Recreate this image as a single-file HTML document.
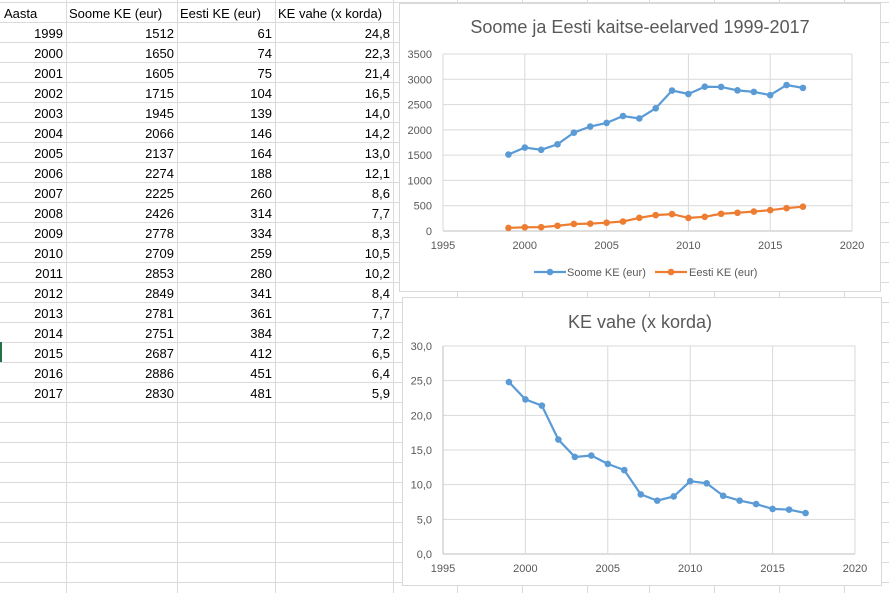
<!DOCTYPE html>
<html><head><meta charset="utf-8">
<style>
body{margin:0;width:889px;height:593px;overflow:hidden;background:#fff;font-family:"Liberation Sans",sans-serif;}
svg{display:block}
</style></head><body>
<svg id="s" width="889" height="593" xmlns="http://www.w3.org/2000/svg" font-family="Liberation Sans, sans-serif"></svg>
<script>
const s=document.getElementById('s');let h='';
const data=[[1999,1512,61,'24,8'],[2000,1650,74,'22,3'],[2001,1605,75,'21,4'],[2002,1715,104,'16,5'],[2003,1945,139,'14,0'],[2004,2066,146,'14,2'],[2005,2137,164,'13,0'],[2006,2274,188,'12,1'],[2007,2225,260,'8,6'],[2008,2426,314,'7,7'],[2009,2778,334,'8,3'],[2010,2709,259,'10,5'],[2011,2853,280,'10,2'],[2012,2849,341,'8,4'],[2013,2781,361,'7,7'],[2014,2751,384,'7,2'],[2015,2687,412,'6,5'],[2016,2886,451,'6,4'],[2017,2830,481,'5,9']];
for(let y=2;y<=593;y+=20)h+=`<line x1="0" y1="${y+.5}" x2="889" y2="${y+.5}" stroke="#dadada"/>`;
[66,177,275,393,457,522,587,649,714,779,844].forEach(x=>h+=`<line x1="${x+.5}" y1="0" x2="${x+.5}" y2="593" stroke="#dadada"/>`);
h+=`<rect x="0" y="342" width="2" height="20" fill="#217346"/>`;
const T=(x,y,t,a,sz,c)=>`<text x="${x}" y="${y}" font-size="${sz||13}" fill="${c||'#000'}" text-anchor="${a||'start'}">${t}</text>`;
h+=T(4,18,'Aasta')+T(69,18,'Soome KE (eur)')+T(180,18,'Eesti KE (eur)')+T(278,18,'KE vahe (x korda)');
data.forEach((d,i)=>{const y=38+i*20;h+=T(63,y,d[0],'end')+T(174,y,d[1],'end')+T(272,y,d[2],'end')+T(390,y,d[3],'end');});
h+=`<rect x="399.5" y="3.5" width="481" height="288" fill="#fff" stroke="#d9d9d9"/>`;
h+=T(640,33,'Soome ja Eesti kaitse-eelarved 1999-2017','middle',18,'#595959');
const x1=y=>443+(y-1995)*81.8/5, y1=v=>231-v*177/3500;
for(let v=0;v<=3500;v+=500){const y=y1(v);h+=`<line x1="443" y1="${y}" x2="852" y2="${y}" stroke="${v?'#d9d9d9':'#bfbfbf'}"/>`+T(432,y+4,v,'end',11,'#595959');}
for(let yr=1995;yr<=2020;yr+=5){const x=x1(yr);h+=`<line x1="${x}" y1="54" x2="${x}" y2="231" stroke="#d9d9d9"/>`+T(x,249,yr,'middle',11,'#595959');}
const ser=(pts,c)=>{let p=`<polyline fill="none" stroke="${c}" stroke-width="2.2" points="${pts.map(q=>q.join(',')).join(' ')}"/>`;pts.forEach(q=>p+=`<circle cx="${q[0]}" cy="${q[1]}" r="3.3" fill="${c}"/>`);return p;};
h+=ser(data.map(d=>[x1(d[0]),y1(d[1])]),'#5b9bd5');
h+=ser(data.map(d=>[x1(d[0]),y1(d[2])]),'#ed7d31');
h+=`<line x1="534" y1="272" x2="566" y2="272" stroke="#5b9bd5" stroke-width="2.2"/><circle cx="550" cy="272" r="3.3" fill="#5b9bd5"/>`+T(567,276,'Soome KE (eur)','start',11,'#595959');
h+=`<line x1="655" y1="272" x2="687" y2="272" stroke="#ed7d31" stroke-width="2.2"/><circle cx="671" cy="272" r="3.3" fill="#ed7d31"/>`+T(689,276,'Eesti KE (eur)','start',11,'#595959');
h+=`<rect x="402.5" y="297.5" width="479" height="288" fill="#fff" stroke="#d9d9d9"/>`;
h+=T(640,328,'KE vahe (x korda)','middle',18,'#595959');
const x2=y=>443+(y-1995)*82.4/5, y2=v=>554-v*208/30;
for(let v=0;v<=30;v+=5){const y=y2(v);h+=`<line x1="443" y1="${y}" x2="855" y2="${y}" stroke="${v?'#d9d9d9':'#bfbfbf'}"/>`+T(432,y+4,v+',0','end',11,'#595959');}
for(let yr=1995;yr<=2020;yr+=5){const x=x2(yr);h+=`<line x1="${x}" y1="346" x2="${x}" y2="554" stroke="${yr==1995?'#bfbfbf':'#d9d9d9'}"/>`+T(x,572,yr,'middle',11,'#595959');}
h+=ser(data.map(d=>[x2(d[0]),y2(parseFloat(d[3].replace(',','.')))]),'#5b9bd5');
s.innerHTML=h;
</script>
</body></html>
